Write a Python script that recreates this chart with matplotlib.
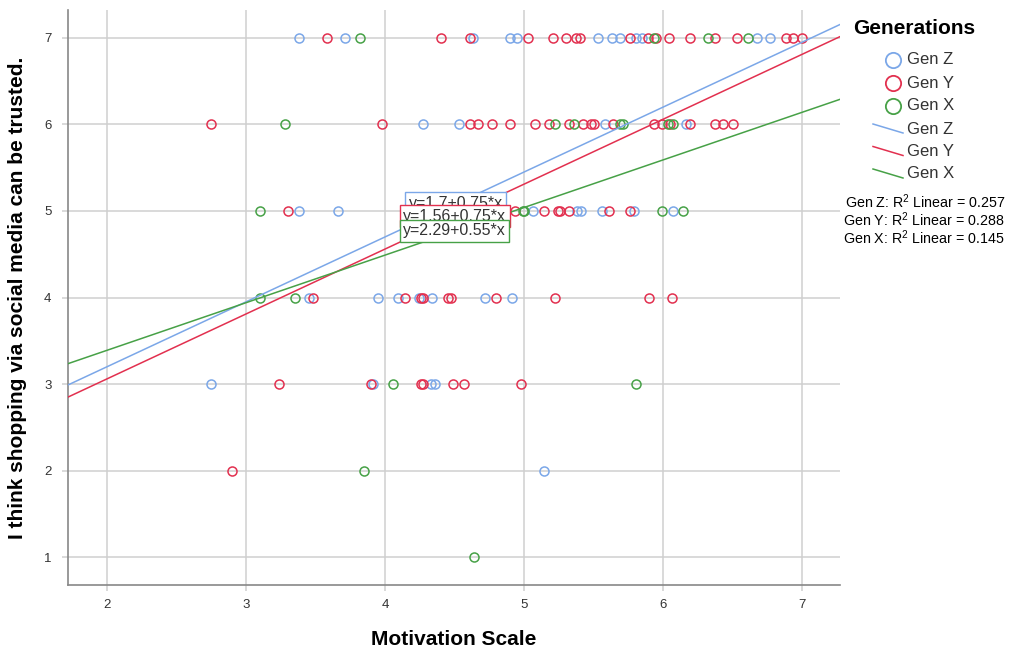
import matplotlib
matplotlib.use('Agg')
import matplotlib.pyplot as plt
from matplotlib.lines import Line2D
import numpy as np

plt.rcParams['font.family'] = ['Liberation Sans', 'DejaVu Sans']
plt.rcParams['mathtext.fontset'] = 'custom'
plt.rcParams['mathtext.rm'] = 'Liberation Sans'
plt.rcParams['mathtext.it'] = 'Liberation Sans:italic'

# --- kolory ---
BLUE = '#7BA7E8'
RED = '#E2304F'
GREEN = '#47A147'
GRID = '#CFCFCF'
TEXT = '#333333'

# --- dane ---
gen_z_motivation = [3.38, 3.71, 4.63, 4.90, 4.95, 5.53, 5.63, 5.69, 5.80, 5.85, 6.67, 6.77,
                    4.27, 4.53, 5.58, 6.16,
                    3.38, 3.66, 5.06, 5.38, 5.41, 5.56, 5.79, 6.07,
                    3.45, 3.95, 4.09, 4.24, 4.34, 4.72, 4.91,
                    2.75, 3.91, 4.33, 4.36,
                    5.14]
gen_z_trust = [7] * 12 + [6] * 4 + [5] * 8 + [4] * 7 + [3] * 4 + [2]

gen_y_motivation = [3.58, 4.40, 4.61, 5.03, 5.21, 5.30, 5.37, 5.40, 5.76, 5.89, 5.95, 6.04,
                    6.19, 6.37, 6.53, 6.88, 6.93, 7.00,
                    2.75, 3.98, 4.61, 4.67, 4.77, 4.90, 5.08, 5.18, 5.32, 5.42, 5.48, 5.50,
                    5.64, 5.93, 5.99, 6.05, 6.19, 6.37, 6.43, 6.50,
                    3.30, 4.93, 5.14, 5.24, 5.26, 5.32, 5.61, 5.76,
                    3.48, 4.14, 4.26, 4.27, 4.45, 4.47, 4.80, 5.22, 5.90, 6.06,
                    3.24, 3.90, 4.26, 4.27, 4.49, 4.57, 4.98,
                    2.90]
gen_y_trust = [7] * 18 + [6] * 20 + [5] * 8 + [4] * 10 + [3] * 7 + [2]

gen_x_motivation = [3.82, 5.93, 6.32, 6.61,
                    3.28, 5.22, 5.36, 5.69, 5.71, 6.03, 6.07,
                    3.10, 4.99, 5.00, 5.99, 6.14,
                    3.10, 3.35,
                    4.06, 5.80,
                    3.85,
                    4.64]
gen_x_trust = [7] * 4 + [6] * 7 + [5] * 5 + [4] * 2 + [3] * 2 + [2] + [1]

generations = ['Gen Z', 'Gen Y', 'Gen X']
colors = [BLUE, RED, GREEN]
intercepts = [1.7, 1.56, 2.29]
slopes = [0.75, 0.75, 0.55]
r_squared = [0.257, 0.288, 0.145]

x_ticks = [2, 3, 4, 5, 6, 7]
y_ticks = [1, 2, 3, 4, 5, 6, 7]

# --- figura ---
fig = plt.figure(figsize=(10.13, 6.52), dpi=100)
ax = fig.add_axes([68 / 1013, 1 - 585 / 652, (840 - 68) / 1013, (585 - 10) / 652])
ax.set_xlim(1.72, 7.27)
ax.set_ylim(0.68, 7.32)

ax.set_xticks(x_ticks)
ax.set_yticks(y_ticks)
ax.grid(True, color=GRID, linewidth=1.1, zorder=0)
ax.set_axisbelow(True)
for s in ['top', 'right']:
    ax.spines[s].set_visible(False)
for s in ['left', 'bottom']:
    ax.spines[s].set_color('#888888')
    ax.spines[s].set_linewidth(1.2)
ax.tick_params(axis='both', colors=GRID, labelcolor=TEXT, labelsize=9.5, length=4, width=1.1)
ax.tick_params(axis='y', pad=8)
ax.tick_params(axis='x', pad=6)

ax.set_xlabel('Motivation Scale', fontsize=15, fontweight='bold', color='black', labelpad=14)
ax.set_ylabel('I think shopping via social media can be trusted.', fontsize=15,
              fontweight='bold', color='black', labelpad=12)

# punkty
all_x = [gen_z_motivation, gen_y_motivation, gen_x_motivation]
all_y = [gen_z_trust, gen_y_trust, gen_x_trust]
for xs, ys, c in zip(all_x, all_y, colors):
    ax.plot(xs, ys, 'o', markersize=6.5, markerfacecolor='none', markeredgecolor=c,
            markeredgewidth=1.1, linestyle='none', zorder=3)

# linie regresji
xx = np.array(ax.get_xlim())
for b0, b1, c in zip(intercepts, slopes, colors):
    ax.plot(xx, b0 + b1 * xx, color=c, linewidth=1.1, zorder=4)

# etykiety równań
eq_pos = [(4.17, 5.09), (4.13, 4.94), (4.13, 4.77)]
for (px, py), b0, b1, c in zip(eq_pos, intercepts, slopes, colors):
    ax.text(px, py, f'y={b0:g}+{b1:g}*x', fontsize=11.5, color=TEXT, va='center', ha='left',
            zorder=6, bbox=dict(boxstyle='square,pad=0.22', facecolor='white',
                                edgecolor=c, linewidth=1.0))

# --- legenda (rysowana ręcznie) ---
def fx(px):
    return px / 1013

def fy(py):
    return 1 - py / 652

fig.text(fx(853), fy(29), 'Generations', fontsize=15, fontweight='bold', va='center', ha='left')
for i, (g, c) in enumerate(zip(generations, colors)):
    yy = 60 + i * 23
    fig.add_artist(Line2D([fx(893)], [fy(yy)], marker='o', markersize=11,
                          markerfacecolor='none', markeredgecolor=c, markeredgewidth=1.3))
    fig.text(fx(907), fy(yy), g, fontsize=12, color=TEXT, va='center', ha='left')
for i, (g, c) in enumerate(zip(generations, colors)):
    yy = 129 + i * 22.5
    fig.add_artist(Line2D([fx(873), fx(903)], [fy(yy - 5), fy(yy + 4)], color=c, linewidth=1.1))
    fig.text(fx(907), fy(yy), g, fontsize=12, color=TEXT, va='center', ha='left')

for i, (g, r2) in enumerate(zip(generations, r_squared)):
    fig.text(fx(1005), fy(202 + i * 18), f'{g}: R$^2$ Linear = {r2:.3f}', fontsize=10.3,
             color='black', va='center', ha='right')

fig.savefig('out.png', dpi=100)
